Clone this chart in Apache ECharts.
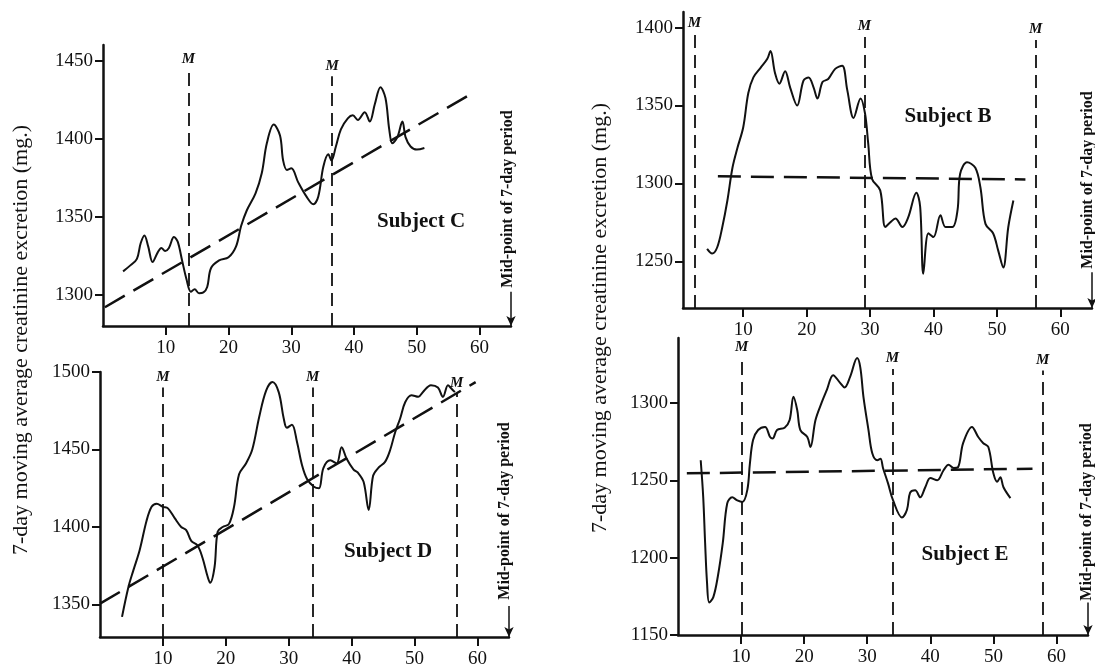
<!DOCTYPE html>
<html><head><meta charset="utf-8">
<script src="https://cdn.jsdelivr.net/npm/echarts@6/dist/echarts.min.js"></script>
<style>html,body{margin:0;padding:0;background:#fff}#chart{width:1095px;height:670px}</style>
</head><body><div id="chart"></div>
<script>
// ---- tick labels ----
const xTickLabels = [10, 20, 30, 40, 50, 60];
const yTicksC = [1300, 1350, 1400, 1450];
const yTicksD = [1350, 1400, 1450, 1500];
const yTicksB = [1250, 1300, 1350, 1400];
const yTicksE = [1150, 1200, 1250, 1300];

// ---- 7-day moving averages [mid-point day, mg] ----
const curveC = [[3.2,1315],[4.4,1319],[5.4,1323],[6.0,1333],[6.6,1338],[7.2,1331],[7.9,1321],[8.7,1327],[9.3,1330],[9.9,1328],[10.5,1330],[11.3,1337],[11.9,1334],[12.6,1322],[13.3,1310],[14.0,1302],[14.6,1303.5],[15.3,1301],[16.0,1301.5],[16.6,1305],[17.2,1317],[18.5,1322],[20.0,1324],[21.2,1331],[22.0,1344],[22.9,1354],[24.3,1365],[25.3,1378],[26.1,1397],[27.2,1409],[28.2,1402],[28.7,1386],[29.3,1380],[30.0,1381],[31.1,1372],[32.4,1363],[33.5,1358],[34.3,1363],[35.1,1382],[35.9,1390],[36.4,1386],[37.1,1395],[37.9,1406],[39.0,1413],[39.8,1415],[40.6,1412],[41.7,1417],[42.5,1411],[43.3,1422],[44.2,1433],[45.0,1426],[45.6,1406],[46.1,1397],[46.9,1401],[47.7,1411],[48.2,1401],[49.0,1395],[50.0,1393],[51.2,1394]];
const curveD = [[3.5,1342],[4.5,1361],[5.3,1372],[6.3,1385],[7.4,1404],[8.2,1413],[9.0,1415],[10.0,1413],[10.8,1412],[11.9,1405.5],[12.9,1400],[13.7,1398],[14.5,1391],[15.5,1388],[16.3,1380],[17.1,1368],[17.5,1364],[18.2,1374],[18.7,1397],[19.5,1400],[20.5,1402],[21.3,1413],[22.1,1434],[23.2,1441],[24.2,1450],[25.3,1471],[26.4,1488],[27.4,1493.5],[28.4,1487],[29.2,1470],[29.7,1464],[30.5,1466],[31.3,1455],[32.1,1440],[32.9,1431],[34.0,1426],[34.8,1425],[35.5,1438],[36.6,1443],[37.6,1441],[38.4,1451.5],[39.2,1444],[40.3,1437],[41.0,1435],[41.9,1429],[42.7,1411],[43.4,1433],[44.2,1438],[45.3,1442],[46.1,1449.5],[46.9,1461],[47.7,1470],[48.5,1480.5],[49.5,1485],[50.6,1484],[51.3,1487],[52.6,1491.5],[53.7,1490],[54.5,1484],[55.3,1491.5],[55.8,1489.5],[56.4,1487]];
const curveB = [[4.3,1258],[5.1,1255],[5.9,1259],[6.7,1272],[7.5,1289],[8.3,1310],[9.1,1323],[10.0,1336],[10.8,1358],[11.6,1368],[12.7,1374],[13.8,1380],[14.3,1385],[15.0,1371],[15.7,1364],[16.6,1372],[17.4,1361.5],[18.5,1350],[19.5,1366],[20.3,1368],[21.1,1361.5],[21.7,1354.5],[22.5,1365],[23.4,1367],[24.5,1373.5],[25.6,1375.5],[26.4,1360],[27.4,1342],[28.5,1354.5],[29.2,1345],[29.7,1326],[30.3,1303],[31.6,1295.5],[32.4,1272],[33.2,1275],[34.0,1277.5],[35.1,1272],[36.0,1278],[37.3,1294],[37.9,1285],[38.4,1242],[39.2,1268],[40.0,1265.5],[41.1,1279.5],[41.9,1272],[43.0,1272],[43.8,1283],[44.2,1306],[45.3,1313.5],[46.6,1310],[47.4,1297.5],[48.2,1274],[49.4,1268],[50.2,1257],[51.0,1246],[51.8,1272],[52.6,1289]];
const curveE = [[3.6,1263],[4.0,1239],[4.3,1209.5],[4.6,1184],[4.95,1171],[5.6,1174.5],[6.3,1187.5],[7.1,1209.5],[7.8,1235],[8.6,1239],[9.4,1237],[10.2,1236],[11.0,1244],[11.4,1261],[11.9,1276],[12.7,1282.5],[13.8,1284.5],[14.6,1278],[15.0,1277],[15.7,1282.5],[16.9,1284],[17.7,1289],[18.3,1304],[18.9,1295.5],[19.4,1282.5],[20.5,1278],[21.0,1271.5],[21.8,1289],[22.8,1300.5],[23.6,1308.5],[24.6,1318],[25.7,1313],[26.4,1310],[27.3,1317],[28.4,1329],[28.9,1323],[29.4,1304],[30.2,1282.5],[30.8,1267.5],[31.6,1263],[32.1,1264],[32.5,1258],[33.3,1248],[34.1,1237],[35.5,1226],[36.3,1231],[36.8,1242],[37.6,1243.5],[38.4,1239],[39.2,1245.5],[40.0,1251.5],[41.1,1250],[42.1,1256.5],[42.9,1260],[43.7,1258],[44.4,1258.5],[45.2,1274],[46.6,1284.5],[47.6,1278],[48.4,1274],[49.2,1271.5],[50.0,1254.5],[50.6,1249],[51.1,1252],[51.6,1245.5],[52.7,1238.5]];

// ---- fitted trend lines ----
const trendC = [[0.3,1292],[59,1429.5]];
const trendD = [[0,1350.5],[59.7,1493.5]];
const trendB = [[6.0,1304.5],[54.5,1302.5]];
const trendE = [[1.4,1254.5],[56.2,1257.5]];

// ---- menstruation markers (day, top of marker line) ----
const mDaysC = [13.6, 36.5];       const mTopsC = [1444, 1440];
const mDaysD = [10, 33.8, 56.7];   const mTopsD = [1490, 1490, 1486];
const mDaysB = [2.3, 29.1, 56.1];  const mTopsB = [1396, 1394, 1392];
const mDaysE = [10.1, 34.0, 57.8]; const mTopsE = [1329, 1322, 1321];

// ---- texts ----
const subjectNames = ['Subject C', 'Subject D', 'Subject B', 'Subject E'];
const midLabel = 'Mid-point of 7-day period';
const yTitle = '7-day moving average creatinine excretion (mg.)';

const FONT = "'Liberation Serif','DejaVu Serif',serif";
const INK = '#111';

const panels = [
  {grid:{left:103, top:45, width:408, height:281}, x:[0,65], y:[1280,1460], yTicks:yTicksC, curve:curveC, trend:trendC, m:mDaysC, mTop:mTopsC, arrowTop:1302},
  {grid:{left:100, top:372, width:409, height:265}, x:[0,65], y:[1329,1500], yTicks:yTicksD, curve:curveD, trend:trendD, m:mDaysD, mTop:mTopsD, arrowTop:1349},
  {grid:{left:683, top:12, width:409, height:296}, x:[0.5,65], y:[1220,1410], yTicks:yTicksB, curve:curveB, trend:trendB, m:mDaysB, mTop:mTopsB, arrowTop:1243},
  {grid:{left:678, top:338, width:410, height:297}, x:[0,65], y:[1150,1342], yTicks:yTicksE, curve:curveE, trend:trendE, m:mDaysE, mTop:mTopsE, arrowTop:1171}
];

const plain = v => String(v);
const grids = [], xAxes = [], yAxes = [], series = [];
panels.forEach((p, i) => {
  grids.push(Object.assign({outerBoundsMode:'none', containLabel:false}, p.grid));
  xAxes.push({
    gridIndex:i, type:'value', min:p.x[0], max:p.x[1],
    axisLine:{show:true, onZero:false, lineStyle:{color:INK, width:2.5}},
    axisTick:{show:true, length:9, lineStyle:{color:INK, width:2}, customValues:xTickLabels},
    axisLabel:{show:true, customValues:xTickLabels, formatter:plain, margin:13, fontFamily:FONT, fontSize:19, color:INK},
    splitLine:{show:false}
  });
  yAxes.push({
    gridIndex:i, type:'value', min:p.y[0], max:p.y[1],
    axisLine:{show:true, onZero:false, lineStyle:{color:INK, width:2.5}},
    axisTick:{show:true, length:8, lineStyle:{color:INK, width:2}, customValues:p.yTicks},
    axisLabel:{show:true, customValues:p.yTicks, formatter:plain, margin:10, fontFamily:FONT, fontSize:19, color:INK},
    splitLine:{show:false}
  });
  series.push({
    type:'line', xAxisIndex:i, yAxisIndex:i, data:p.curve, smooth:0.35, showSymbol:false,
    lineStyle:{color:INK, width:2}, animation:false, z:3,
    markLine:{
      silent:true, animation:false, symbol:['none','none'],
      lineStyle:{color:INK, width:1.8, type:[13,7]},
      label:{show:true, position:'end', formatter:'M', fontFamily:FONT, fontStyle:'italic', fontWeight:'bold', fontSize:15, color:INK, distance:3},
      emphasis:{disabled:true},
      data:p.m.map((d,k) => [{coord:[d, p.y[0]]}, {coord:[d, p.mTop[k]]}])
    }
  });
  series.push({
    type:'line', xAxisIndex:i, yAxisIndex:i, data:p.trend, showSymbol:false,
    lineStyle:{color:INK, width:2.5, type:[23,10]}, animation:false, z:2,
    markLine:{
      silent:true, animation:false, symbol:['none','arrow'], symbolSize:[7,10],
      lineStyle:{color:INK, width:1.5, type:'solid'},
      label:{show:false}, emphasis:{disabled:true},
      data:[[{coord:[p.x[1], p.arrowTop]}, {coord:[p.x[1], p.y[0]]}]]
    }
  });
});

const chart = echarts.init(document.getElementById('chart'));
chart.setOption({
  animation:false, backgroundColor:'#fff',
  grid:grids, xAxis:xAxes, yAxis:yAxes, series:series
});

// text placement (layout only)
const subjectPos = [[421,222],[388,552],[948,117],[965,555]];
const midPos = [[508,199],[505,511],[1088,180],[1087,512]];
const titlePos = [[21,340],[600,318]];
const graphics = [];
subjectNames.forEach((s,i) => graphics.push({
  type:'text', x:subjectPos[i][0], y:subjectPos[i][1], silent:true,
  style:{text:s, font:"bold 21px " + FONT, fill:INK, align:'center', verticalAlign:'middle'}
}));
midPos.forEach(pos => graphics.push({
  type:'text', x:pos[0], y:pos[1], rotation:Math.PI/2, silent:true,
  style:{text:midLabel, font:"bold 16px " + FONT, fill:INK, align:'center', verticalAlign:'middle'}
}));
titlePos.forEach(pos => graphics.push({
  type:'text', x:pos[0], y:pos[1], rotation:Math.PI/2, silent:true,
  style:{text:yTitle, font:"22px " + FONT, fill:INK, align:'center', verticalAlign:'middle'}
}));
chart.setOption({graphic:graphics});
</script></body></html>
